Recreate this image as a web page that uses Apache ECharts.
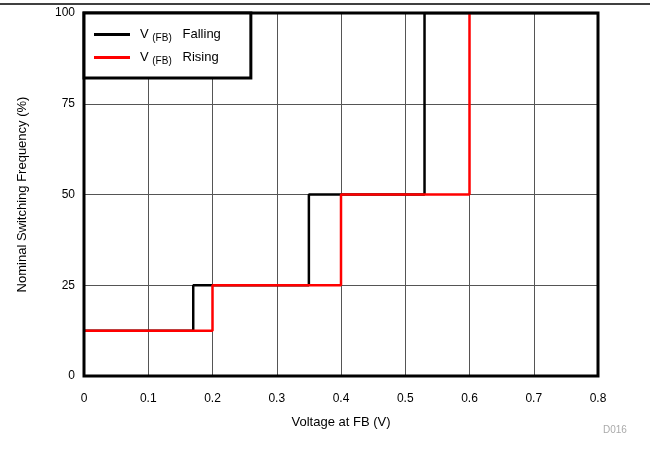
<!DOCTYPE html>
<html><head><meta charset="utf-8">
<script src="https://cdn.jsdelivr.net/npm/echarts@6/dist/echarts.min.js"></script>
<style>html,body{margin:0;padding:0;background:#fff}#c{width:654px;height:470px}</style>
</head><body><div id="c"></div>
<script>
// Data
const fallingThresholds = [0, 0.17, 0.35, 0.53, 0.8];
const fallingLevels = [12.5, 25, 50, 100, 100];
const risingThresholds = [0, 0.2, 0.4, 0.6];
const risingLevels = [12.5, 25, 50, 100];
const xTicks = [0, 0.1, 0.2, 0.3, 0.4, 0.5, 0.6, 0.7, 0.8];
const yTicks = [0, 25, 50, 75, 100];

function pts(xs, ys) { return xs.map((x, i) => [x, ys[i]]); }

const chart = echarts.init(document.getElementById('c'), null, {renderer: 'canvas'});
const font = 'Liberation Sans, Arial, sans-serif';
chart.setOption({
  animation: false,
  backgroundColor: '#fff',
  grid: {left: 84, top: 13, width: 514, height: 363, show: true, borderColor: '#000', borderWidth: 3, backgroundColor: 'transparent', z: 5},
  xAxis: {
    type: 'value', min: 0, max: 0.8, interval: 0.1,
    axisLine: {show: false}, axisTick: {show: false},
    splitLine: {show: true, lineStyle: {color: '#555', width: 1}},
    axisLabel: {color: '#000', fontFamily: font, fontSize: 12, margin: 17, formatter: v => String(Math.round(v * 10) / 10)},
    name: 'Voltage at FB (V)', nameLocation: 'middle', nameGap: 40,
    nameTextStyle: {color: '#000', fontFamily: font, fontSize: 13}
  },
  yAxis: {
    type: 'value', min: 0, max: 100, interval: 25,
    axisLine: {show: false}, axisTick: {show: false},
    splitLine: {show: true, lineStyle: {color: '#555', width: 1}},
    axisLabel: {color: '#000', fontFamily: font, fontSize: 12, margin: 9},
    name: 'Nominal Switching Frequency (%)', nameLocation: 'middle', nameGap: 55,
    nameTextStyle: {color: '#000', fontFamily: font, fontSize: 13}
  },
  legend: {
    orient: 'vertical', left: 84, top: 13,
    padding: [15, 30, 12, 10], itemGap: 8,
    borderColor: '#000', borderWidth: 3, backgroundColor: '#fff',
    icon: 'rect', itemWidth: 36, itemHeight: 3,
    textStyle: {color: '#000', fontFamily: font, fontSize: 13, padding: [0, 0, 0, 5],
      rich: {sub: {fontSize: 10, fontFamily: font, color: '#000', verticalAlign: 'bottom', padding: [7, 0, 0, 0]}}},
    formatter: n => n === 'falling' ? 'V {sub|(FB)}   Falling' : 'V {sub|(FB)}   Rising',
    data: ['falling', 'rising'], z: 10
  },
  graphic: [
    {type: 'line', shape: {x1: 0, y1: 4, x2: 650, y2: 4}, style: {stroke: '#000', lineWidth: 1.5}},
    {type: 'text', left: 603, top: 425, style: {text: 'D016', fill: '#aaa', font: '10px ' + font}}
  ],
  series: [
    {name: 'falling', type: 'line', step: 'end', data: pts(fallingThresholds, fallingLevels), showSymbol: false, lineStyle: {color: '#000', width: 2.5}, itemStyle: {color: '#000'}, z: 3},
    {name: 'rising', type: 'line', step: 'end', data: pts(risingThresholds, risingLevels), showSymbol: false, lineStyle: {color: '#ff0000', width: 2.5}, itemStyle: {color: '#ff0000'}, z: 4}
  ]
});
</script></body></html>
